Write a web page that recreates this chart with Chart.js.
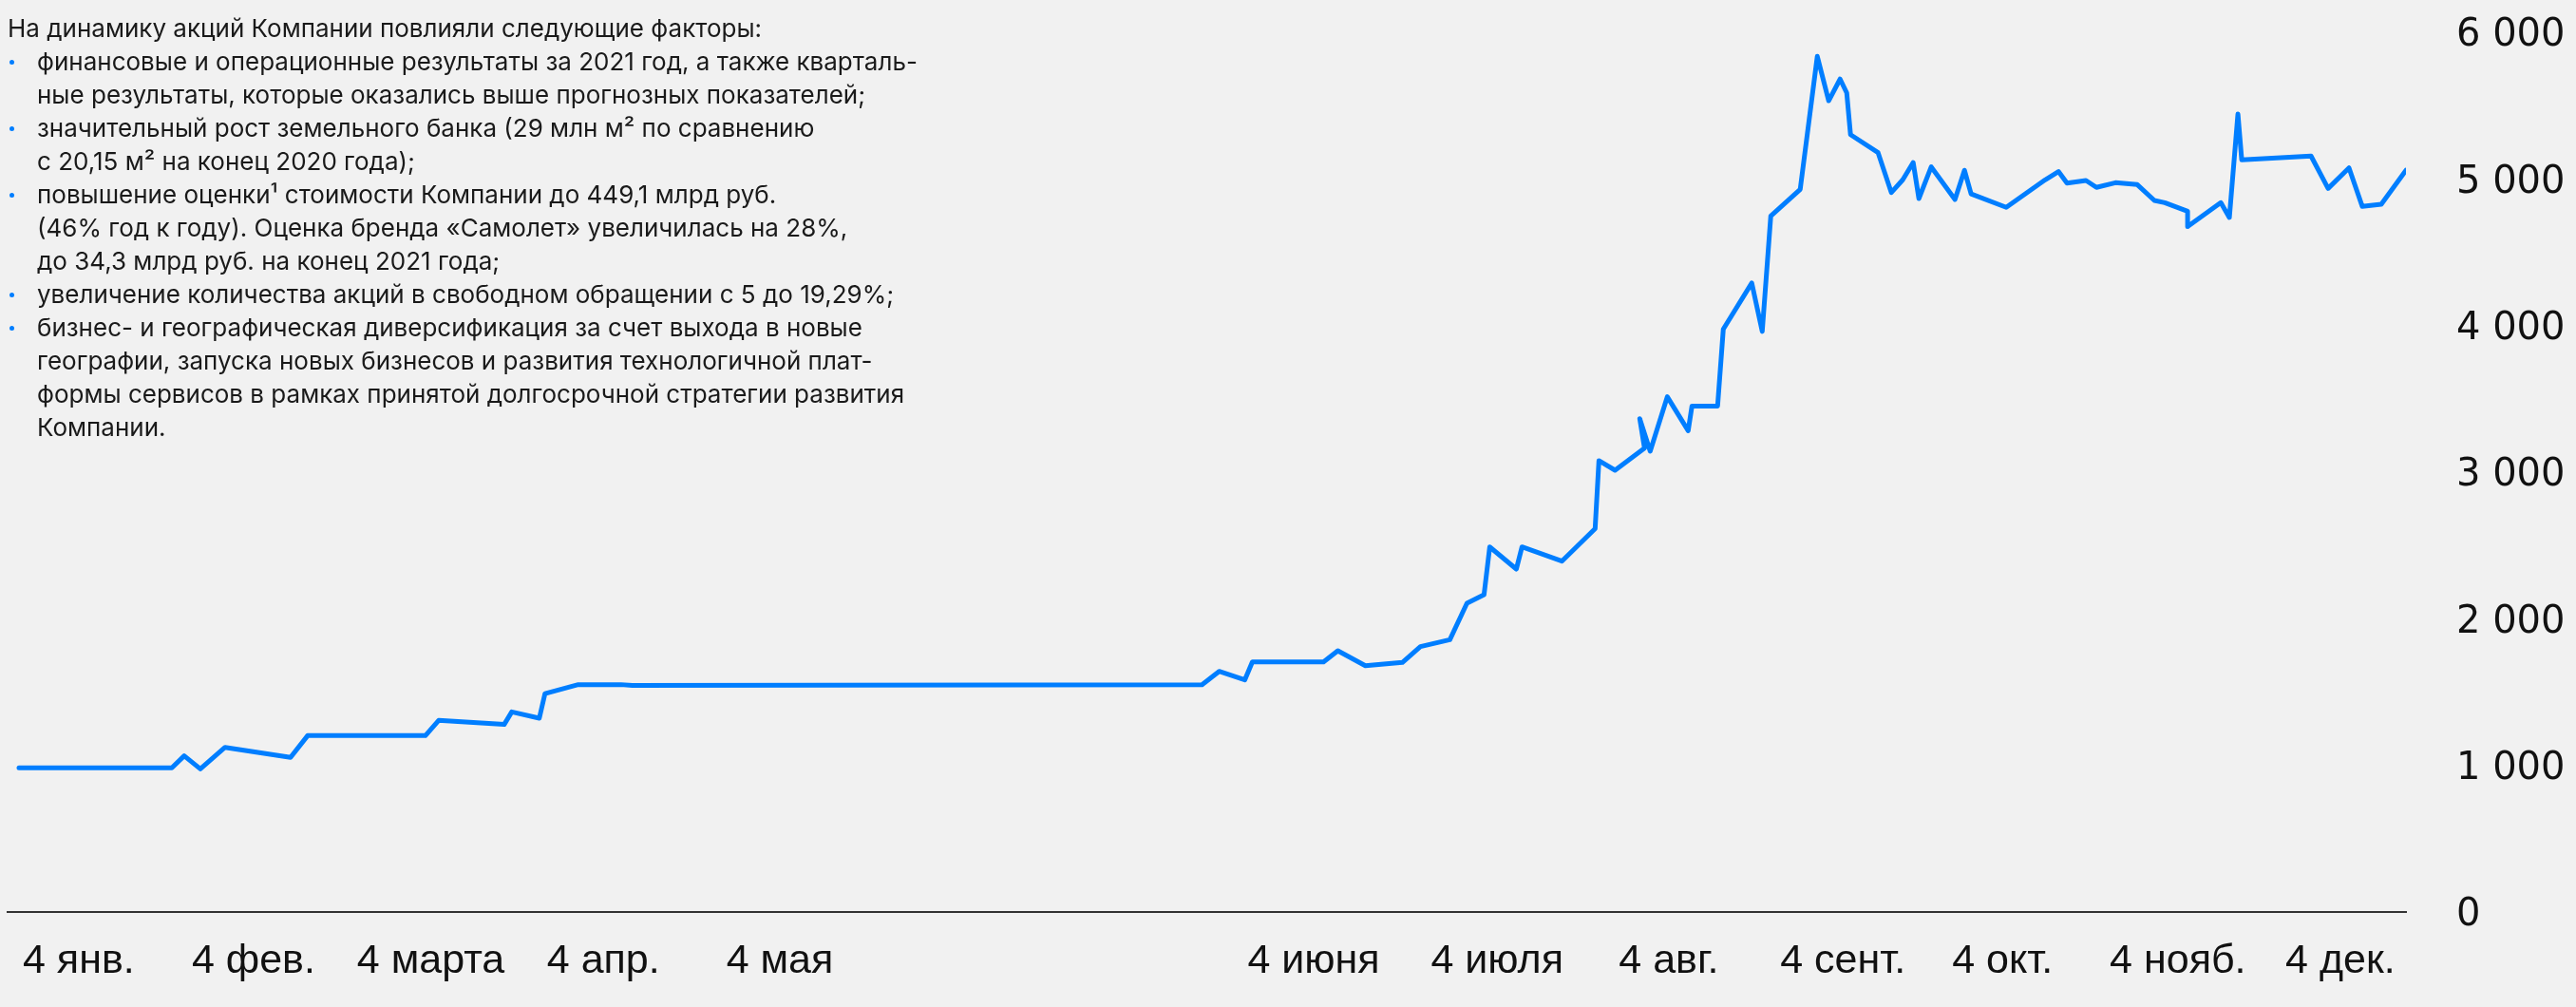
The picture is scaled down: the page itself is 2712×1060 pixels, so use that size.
<!DOCTYPE html>
<html lang="ru">
<head>
<meta charset="utf-8">
<title>Динамика акций</title>
<script src="https://cdn.jsdelivr.net/npm/chart.js@4"></script>
<style>
	html, body {
		margin: 0;
		padding: 0;
		background: #f1f1f1;
	}

	.wrap {
		position: relative;
		width: 2712px;
		height: 1060px;
	}

	canvas {
		display: block;
	}

	.note {
		position: absolute;
		left: 8px;
		top: 12px;
		font-family: Inter, "Noto Sans", sans-serif;
		font-size: 26px;
		line-height: 35px;
		color: #1a1a1a;
		white-space: nowrap;
	}

	.note .item {
		position: relative;
		padding-left: 31px;
	}

	.note .item::before {
		content: "";
		position: absolute;
		left: 2px;
		top: 16px;
		width: 5px;
		height: 5px;
		border-radius: 50%;
		background: #007eff;
	}
</style>
</head>
<body>
<div class="wrap">
	<canvas id="priceChart" width="2712" height="1060"></canvas>

	<div class="note">
		<div>На динамику акций Компании повлияли следующие факторы:</div>
		<div class="item">финансовые и операционные результаты за 2021 год, а также кварталь-<br>ные результаты, которые оказались выше прогнозных показателей;</div>
		<div class="item">значительный рост земельного банка (29 млн м² по сравнению<br>с 20,15 м² на конец 2020 года);</div>
		<div class="item">повышение оценки¹ стоимости Компании до 449,1 млрд руб.<br>(46% год к году). Оценка бренда «Самолет» увеличилась на 28%,<br>до 34,3 млрд руб. на конец 2021 года;</div>
		<div class="item">увеличение количества акций в свободном обращении с 5 до 19,29%;</div>
		<div class="item">бизнес- и географическая диверсификация за счет выхода в новые<br>географии, запуска новых бизнесов и развития технологичной плат-<br>формы сервисов в рамках принятой долгосрочной стратегии развития<br>Компании.</div>
	</div>
</div>

<script>
	// position of each point along the (uneven) date axis, in axis units
	const pointPos = [
		0, 16.1, 17.4, 19.1, 21.7, 28.6, 30.4, 42.8, 44.2, 51.1,
		51.9, 54.8, 55.4, 58.9, 63.4, 64.6, 124.6, 126.4, 129.1, 129.9,
		137.4, 138.9, 141.8, 145.7, 147.6, 150.7, 152.5, 154.3, 154.9, 157.7,
		158.3, 162.5, 166.0, 166.4, 168.1, 171.2, 170.7, 171.8, 173.6, 175.8,
		176.2, 178.9, 179.5, 182.5, 183.6, 184.5, 187.6, 189.4, 190.6, 191.8,
		192.5, 192.9, 195.8, 197.2, 198.4, 199.5, 200.1, 201.4, 203.9, 204.9,
		205.6, 209.3, 213.4, 214.8, 215.7, 217.7, 218.8, 220.8, 223.1, 224.9,
		226.0, 228.4, 228.4, 231.9, 232.8, 233.7, 234.1, 241.4, 243.2, 245.4,
		246.8, 248.8, 251.4
	];

	// share price, rub.
	const sharePrice = [
		983, 983, 1065, 976, 1123, 1054, 1203, 1203, 1307, 1279,
		1365, 1322, 1490, 1551, 1551, 1545, 1550, 1641, 1583, 1706,
		1706, 1782, 1680, 1702, 1810, 1857, 2106, 2164, 2490, 2339,
		2490, 2393, 2615, 3078, 3013, 3164, 3365, 3143, 3514, 3283,
		3451, 3451, 3975, 4290, 3960, 4747, 4929, 5836, 5533, 5681,
		5587, 5302, 5179, 4907, 4994, 5112, 4866, 5082, 4860, 5059,
		4898, 4806, 4994, 5050, 4972, 4989, 4942, 4974, 4961, 4853,
		4838, 4779, 4675, 4838, 4737, 5443, 5130, 5156, 4935, 5075,
		4812, 4827, 5059
	];

	const monthLabels = [
		"4 янв.", "4 фев.", "4 марта", "4 апр.", "4 мая", "4 июня",
		"4 июля", "4 авг.", "4 сент.", "4 окт.", "4 нояб.", "4 дек."
	];
	const monthPos = [
		0.4, 18.2, 35.6, 55.6, 74.5, 129.4,
		148.7, 168.5, 185.5, 203.6, 220.2, 238.7
	];

	const yTicks = [0, 1000, 2000, 3000, 4000, 5000, 6000];

	const lineColor = "#007eff";

	const formatThousands = (value) => String(value).replace(/\B(?=(\d{3})+(?!\d))/g, " ");

	const points = pointPos.map((x, i) => ({ x: x, y: sharePrice[i] }));

	new Chart(document.getElementById("priceChart"), {
		type: "line",

		data: {
			datasets: [{
				data: points,
				borderColor: lineColor,
				borderWidth: 5,
				borderJoinStyle: "round",
				borderCapStyle: "round",
				pointRadius: 0,
				tension: 0,
				fill: false
			}]
		},

		options: {
			responsive: false,
			animation: false,
			devicePixelRatio: 1,

			layout: {
				padding: { left: 8, right: 12, top: 34, bottom: 0 }
			},

			plugins: {
				legend: { display: false },
				tooltip: { enabled: false }
			},

			scales: {
				x: {
					type: "linear",
					min: -1.2,
					max: 251.4,
					afterBuildTicks: (axis) => {
						axis.ticks = monthPos.map((v) => ({ value: v }));
					},
					afterFit: (axis) => {
						axis.height = 100;
					},
					// invisible tick marks give the gap between axis line and labels
					grid: {
						display: true,
						drawOnChartArea: false,
						drawTicks: true,
						tickLength: 26,
						tickColor: "rgba(0,0,0,0)"
					},
					border: { display: true, color: "#333333", width: 2 },
					ticks: {
						align: "start",
						padding: 0,
						maxRotation: 0,
						autoSkip: false,
						color: "#111111",
						font: { family: "'Liberation Sans', Arial, sans-serif", size: 43 },
						callback: (value) => {
							const i = monthPos.indexOf(value);
							return i >= 0 ? monthLabels[i] : "";
						}
					}
				},

				y: {
					position: "right",
					min: 0,
					max: 6000,
					afterBuildTicks: (axis) => {
						axis.ticks = yTicks.map((v) => ({ value: v }));
					},
					afterFit: (axis) => {
						axis.width = 167;
					},
					grid: {
						display: true,
						drawOnChartArea: false,
						drawTicks: true,
						tickLength: 53,
						tickColor: "rgba(0,0,0,0)"
					},
					border: { display: false },
					ticks: {
						padding: 0,
						labelOffset: 4,
						color: "#111111",
						font: { family: "'DejaVu Sans', sans-serif", size: 40 },
						callback: (value) => formatThousands(value)
					}
				}
			}
		}
	});
</script>
</body>
</html>
